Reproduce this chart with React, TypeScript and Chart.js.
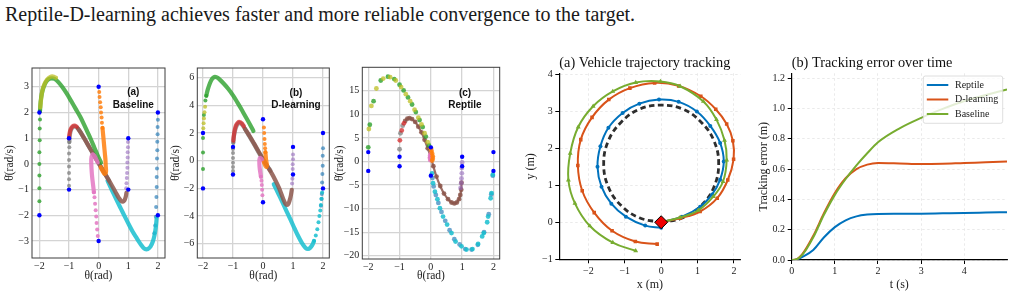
import React, { useEffect, useRef } from "react";
import { Chart, registerables } from "chart.js";
Chart.register(...registerables);

type P = [number, number];

const SERIF = '"Liberation Serif","Times New Roman",Times,serif';
const SANS = '"Liberation Sans",Arial,Helvetica,sans-serif';

const CAPTION = "Reptile-D-learning achieves faster and more reliable convergence to the target.";

// ---------- phase portraits: shared ----------
const PHASE_X_TICKS = [-2, -1, 0, 1, 2];
const A_Y_TICKS = [-3, -2, -1, 0, 1, 2, 3];
const B_Y_TICKS = [-6, -4, -2, 0, 2, 4, 6];
const C_Y_TICKS = [-20, -15, -10, -5, 0, 5, 10, 15];
const INIT_POINTS: P[] = [[-2, 2], [-2, -2], [-1, 1], [-1, -1], [0, 3], [0, -3], [1, 1], [1, -1], [2, 2], [2, -2]];

// ---------- (a) Baseline ----------
const aGreenDots: P[] = [[-2, -1.45], [-2, -0.95], [-2, -0.45], [-2, 0.0], [-2, 0.45], [-1.99, 0.92], [-1.99, 1.38], [-1.98, 1.73], [-1.98, 2.05]];
const aGreenPath: P[] = [[-1.98, 2.05], [-1.96, 2.4], [-1.92, 2.72], [-1.86, 2.98], [-1.78, 3.18], [-1.68, 3.3], [-1.58, 3.33], [-1.48, 3.3], [-1.36, 3.18], [-1.22, 2.98], [-1.08, 2.74], [-0.93, 2.45], [-0.78, 2.15], [-0.63, 1.85], [-0.5, 1.55], [-0.38, 1.25], [-0.26, 0.95], [-0.14, 0.62], [-0.03, 0.32], [0.08, 0.05]];
const aOlivePath: P[] = [[-1.97, 2.2], [-1.94, 2.55], [-1.9, 2.85], [-1.83, 3.1], [-1.74, 3.28], [-1.64, 3.38], [-1.54, 3.4], [-1.44, 3.35]];
const aRedPath: P[] = [[-1, 1.0], [-0.98, 1.2], [-0.94, 1.36], [-0.88, 1.46], [-0.81, 1.49], [-0.74, 1.45]];
const aGrayDots: P[] = [[-1, -0.85], [-1, -0.6], [-1, -0.35], [-1, -0.1], [-1, 0.15], [-1, 0.4], [-0.99, 0.65], [-0.99, 0.85]];
const aGrayPath: P[] = [[-0.99, 0.85], [-0.97, 1.15], [-0.93, 1.33], [-0.87, 1.43], [-0.8, 1.45], [-0.72, 1.4], [-0.62, 1.25], [-0.5, 1.02], [-0.38, 0.78], [-0.24, 0.5], [-0.1, 0.22], [0.05, -0.07], [0.2, -0.36], [0.35, -0.65]];
const aBrownPath: P[] = [[-0.7, 1.38], [-0.58, 1.17], [-0.45, 0.92], [-0.3, 0.62], [-0.15, 0.32], [0, 0.03], [0.15, -0.26], [0.3, -0.55], [0.45, -0.85], [0.58, -1.12], [0.68, -1.32], [0.76, -1.44], [0.82, -1.47], [0.87, -1.42], [0.91, -1.3], [0.94, -1.12]];
const aPurpleDots: P[] = [[0.99, 0.85], [0.99, 0.65], [0.98, 0.45], [0.98, 0.25], [0.97, 0.05], [0.97, -0.15], [0.96, -0.35], [0.95, -0.55], [0.94, -0.75], [0.93, -0.95]];
const aOrangeDots: P[] = [[0.02, 2.8], [0.03, 2.6], [0.05, 2.4], [0.07, 2.2], [0.08, 2.0], [0.1, 1.8], [0.11, 1.6], [0.13, 1.4]];
const aOrangePath: P[] = [[0.13, 1.4], [0.15, 1.15], [0.17, 0.9], [0.19, 0.65], [0.21, 0.4], [0.23, 0.15], [0.24, -0.1], [0.25, -0.28], [0.23, -0.38], [0.19, -0.38], [0.13, -0.27], [0.07, -0.13]];
const aPinkDots: P[] = [[-0.03, -2.8], [-0.05, -2.55], [-0.07, -2.3], [-0.08, -2.05], [-0.1, -1.8], [-0.12, -1.55], [-0.14, -1.3], [-0.16, -1.1]];
const aPinkPath: P[] = [[-0.16, -1.1], [-0.19, -0.8], [-0.22, -0.5], [-0.24, -0.2], [-0.25, 0.08], [-0.24, 0.27], [-0.2, 0.37], [-0.15, 0.33], [-0.09, 0.2], [-0.03, 0.06]];
const aBlueDots: P[] = [[2.0, 1.72], [1.99, 1.44], [1.99, 1.15], [1.98, 0.86], [1.98, 0.53], [1.97, 0.21], [1.97, -0.18], [1.96, -0.51], [1.96, -0.9], [1.95, -1.29], [1.94, -1.68], [1.93, -2.06], [1.91, -2.4], [1.88, -2.7]];
const aCyanPath: P[] = [[1.96, -2.1], [1.93, -2.45], [1.89, -2.75], [1.83, -3.02], [1.75, -3.22], [1.66, -3.31], [1.57, -3.31], [1.48, -3.22], [1.38, -3.06], [1.27, -2.86], [1.15, -2.64], [1.02, -2.36], [0.88, -2.04], [0.75, -1.74], [0.62, -1.44], [0.5, -1.15], [0.4, -0.9], [0.3, -0.65]];

// ---------- (b) D-learning ----------
const bGreenDots: P[] = [[-2, -0.6], [-2, 0.6], [-2, 1.64], [-1.97, 3.3], [-1.92, 4.35], [-1.89, 4.7]];
const bOliveDots: P[] = [[-1.99, 2.35], [-1.98, 2.7], [-1.97, 3.05], [-1.95, 3.5], [-1.93, 3.9]];
const bGreenPath: P[] = [[-1.89, 4.7], [-1.84, 5.15], [-1.77, 5.6], [-1.7, 5.9], [-1.62, 6.05], [-1.54, 6.02], [-1.45, 5.88], [-1.32, 5.6], [-1.16, 5.2], [-1.0, 4.72], [-0.85, 4.2], [-0.7, 3.65], [-0.56, 3.1], [-0.43, 2.6], [-0.32, 2.15]];
const bRedPath: P[] = [[-0.99, 1.45], [-0.97, 1.85], [-0.94, 2.25], [-0.9, 2.55], [-0.84, 2.75], [-0.78, 2.8], [-0.71, 2.7], [-0.64, 2.5]];
const bGrayDots: P[] = [[-1, -0.75], [-1, -0.45], [-1, -0.15], [-1, 0.2], [-1, 0.55], [-1, 0.85], [-0.99, 1.3]];
const bGrayPath: P[] = [[-0.99, 1.3], [-0.97, 1.75], [-0.93, 2.2], [-0.88, 2.52], [-0.82, 2.7], [-0.76, 2.72], [-0.68, 2.56], [-0.58, 2.22], [-0.45, 1.75], [-0.3, 1.2], [-0.15, 0.62], [0, 0.08], [0.12, -0.32], [0.25, -0.72]];
const bBrownPath: P[] = [[-0.6, 2.3], [-0.45, 1.8], [-0.3, 1.25], [-0.15, 0.68], [0, 0.12], [0.15, -0.42], [0.3, -0.95], [0.42, -1.45], [0.53, -1.95], [0.62, -2.45], [0.69, -2.85], [0.75, -3.12], [0.8, -3.2], [0.85, -3.1], [0.89, -2.85], [0.93, -2.5], [0.96, -2.1]];
const bPurpleDots: P[] = [[1, 0.45], [1, 0.1], [0.99, -0.25], [0.99, -0.6], [0.98, -1.3], [0.97, -1.65]];
const bOrangeDots: P[] = [[0.03, 2.4], [0.04, 2.0], [0.05, 1.57], [0.06, 1.2], [0.07, 0.9], [0.08, 0.62]];
const bOrangePath: P[] = [[0.08, 0.62], [0.09, 0.35], [0.1, 0.1], [0.12, -0.15], [0.13, -0.35], [0.11, -0.45], [0.07, -0.32], [0.03, -0.12]];
const bPinkDots: P[] = [[-0.02, -2.5], [-0.03, -2.1], [-0.04, -1.75], [-0.05, -1.45], [-0.07, -1.15]];
const bPinkPath: P[] = [[-0.07, -1.15], [-0.09, -0.85], [-0.11, -0.55], [-0.12, -0.25], [-0.12, 0.05], [-0.1, 0.2], [-0.06, 0.15], [-0.02, 0.05]];
const bBlueDots: P[] = [[2, 0.9], [1.99, 0.36], [1.99, -0.36], [1.98, -0.96], [1.97, -1.57], [1.96, -2.4], [1.95, -2.77], [1.93, -3.25]];
const bCyanDots: P[] = [[1.97, -2.3], [1.95, -2.75], [1.93, -3.2], [1.91, -3.6], [1.88, -4.0], [1.85, -4.45], [1.81, -4.95], [1.76, -5.4], [1.7, -5.8]];
const bCyanPath: P[] = [[1.7, -5.8], [1.64, -6.1], [1.57, -6.3], [1.5, -6.38], [1.42, -6.3], [1.3, -5.95], [1.15, -5.35], [1.0, -4.65], [0.85, -3.95], [0.7, -3.25], [0.56, -2.6], [0.45, -2.1], [0.36, -1.7]];

// ---------- (c) Reptile ----------
const cGreenDots: P[] = [[-2, 3.0], [-1.95, 7.8], [-1.83, 12.8], [-1.6, 17.2], [-1.37, 18.0], [-1.17, 17.5], [-1.0, 16.3], [-0.87, 15.1], [-0.73, 13.6], [-0.6, 12.1], [-0.48, 10.5], [-0.36, 8.8], [-0.26, 7.3], [-0.16, 5.3], [-0.06, 3.4]];
const cOliveDots: P[] = [[-1.98, 6.9], [-1.9, 11.8], [-1.74, 15.5], [-1.52, 17.6], [-1.3, 17.9], [-1.12, 17.2], [-0.95, 15.8], [-0.8, 14.3], [-0.66, 12.8], [-0.52, 11.0], [-0.4, 9.3], [-0.3, 7.9], [-0.2, 6.0], [-0.1, 4.1]];
const cGrayDots: P[] = [[-1, 2.6], [-0.97, 6.0], [-0.9, 7.6]];
const cRedDots: P[] = [[-0.99, 4.5], [-0.93, 6.6], [-0.86, 8.1]];
const cBrownPath: P[] = [[-0.82, 8.6], [-0.75, 9.1], [-0.68, 9.2], [-0.6, 9.0], [-0.5, 8.4], [-0.4, 7.4], [-0.3, 6.2], [-0.2, 4.6], [-0.1, 2.8], [0, 0.9], [0.08, -1.0], [0.18, -3.2], [0.3, -5.2], [0.42, -6.8], [0.55, -8.0], [0.66, -8.7], [0.75, -8.9], [0.83, -8.7], [0.9, -8.0], [0.94, -7.1], [0.97, -6.0], [0.98, -4.5]];
const cPurpleDots: P[] = [[1, -0.2], [0.99, -1.4], [0.99, -2.5], [0.98, -3.6], [0.97, -4.6], [0.95, -5.6]];
const cOrangePath: P[] = [[0, 2.8], [0.02, 2.3], [0.04, 1.7], [0.06, 1.1], [0.06, 0.6], [0.04, 0.2]];
const cPinkPath: P[] = [[-0.02, 0.3], [-0.03, 0.8], [-0.02, 1.3], [0, 1.6]];
const cCyanDots: P[] = [[1.98, -2.8], [1.94, -6.7], [1.91, -7.8], [1.83, -11.7], [1.8, -12.9], [1.69, -15.2], [1.64, -15.9], [1.51, -17.5], [1.33, -18.6], [1.14, -18.7], [0.98, -18.0], [0.79, -17.0], [0.66, -15.2], [0.52, -13.4], [0.39, -11.7], [0.29, -9.9], [0.21, -8.0], [0.13, -6.4], [0.07, -4.6], [0.04, -2.5]];
const cBlueDots: P[] = [[1.98, -3.0], [1.93, -7.0], [1.85, -11.2], [1.7, -15.0], [1.5, -17.7], [1.3, -18.7], [1.1, -18.6], [0.92, -17.6], [0.75, -16.5], [0.6, -14.6], [0.46, -12.6], [0.34, -10.7], [0.24, -8.8], [0.16, -7.1], [0.09, -5.3], [0.05, -3.5]];

// ---------- trajectory tracking ----------
const TRAJ_X_TICKS = [-2, -1, 0, 1, 2];
const TRAJ_Y_TICKS = [-1, 0, 1, 2, 3, 4];
const targetPath: P[] = [[0, 0], [0.6, 0.12], [1.1, 0.45], [1.45, 0.95], [1.58, 1.58], [1.45, 2.2], [1.1, 2.7], [0.6, 3.05], [0, 3.16], [-0.6, 3.05], [-1.1, 2.7], [-1.45, 2.2], [-1.58, 1.58], [-1.45, 0.95], [-1.1, 0.45], [-0.6, 0.12], [0, 0]];
const reptilePath: P[] = [[0, 0], [0.57, 0.15], [1.07, 0.42], [1.4, 0.75], [1.62, 1.15], [1.72, 1.64], [1.62, 2.14], [1.35, 2.6], [0.98, 2.99], [0.48, 3.25], [-0.06, 3.31], [-0.6, 3.2], [-1.06, 2.95], [-1.45, 2.55], [-1.67, 2.05], [-1.75, 1.5], [-1.64, 0.96], [-1.37, 0.5], [-0.97, 0.15], [-0.44, -0.09], [0, -0.15]];
const dlearnPath: P[] = [[0, 0], [0.52, 0.11], [1.07, 0.29], [1.54, 0.65], [1.83, 1.14], [1.99, 1.7], [1.97, 2.2], [1.8, 2.65], [1.5, 3.05], [1.09, 3.4], [0.48, 3.68], [-0.18, 3.76], [-0.86, 3.62], [-1.44, 3.31], [-1.9, 2.83], [-2.21, 2.23], [-2.29, 1.53], [-2.17, 0.85], [-1.84, 0.26], [-1.35, -0.23], [-0.71, -0.52], [-0.11, -0.59]];
const baselinePath: P[] = [[0, 0], [0.52, 0.13], [1.02, 0.32], [1.43, 0.69], [1.7, 1.1], [1.8, 1.68], [1.74, 2.21], [1.52, 2.77], [1.16, 3.26], [0.52, 3.67], [-0.02, 3.8], [-0.7, 3.77], [-1.33, 3.53], [-1.87, 3.13], [-2.28, 2.57], [-2.5, 1.86], [-2.55, 1.14], [-2.37, 0.51], [-1.96, -0.1], [-1.33, -0.55], [-0.7, -0.77]];
const startPoint: P[] = [[0, 0]];

// ---------- tracking error ----------
const ERR_X_TICKS = [0, 1, 2, 3, 4];
const ERR_Y_TICKS = [0, 0.2, 0.4, 0.6, 0.8, 1.0, 1.2];
const SERIES_NAMES = ["Reptile", "D-learning", "Baseline"];
const SERIES_COLORS = ["#0072BD", "#D95319", "#77AC30"];
const timeS = [0, 0.1, 0.25, 0.5, 0.75, 1, 1.25, 1.5, 1.75, 2, 2.5, 3, 3.5, 4, 4.5, 4.99];
const errReptile = [0, 0.002, 0.02, 0.066, 0.15, 0.217, 0.262, 0.288, 0.3, 0.304, 0.305, 0.306, 0.308, 0.31, 0.313, 0.316];
const errDlearn = [0, 0.003, 0.04, 0.16, 0.31, 0.442, 0.54, 0.6, 0.63, 0.641, 0.638, 0.634, 0.636, 0.641, 0.645, 0.65];
const errBaseline = [0, 0.003, 0.035, 0.15, 0.3, 0.43, 0.535, 0.625, 0.705, 0.778, 0.87, 0.939, 0.998, 1.05, 1.09, 1.127];

// ---------- helpers ----------
const fmtInt = (v: number) => (v < 0 ? "\u2212" + Math.abs(v) : String(v));
const xy = (pts: P[]) => pts.map(([x, y]) => ({ x, y }));

type Layer = { pts: P[]; color: string; kind: "dots" | "path" | "beads" };

const framePlugin = {
  id: "frame",
  afterDraw(chart: any) {
    const { ctx, chartArea: a } = chart;
    ctx.save();
    ctx.strokeStyle = "#3c3c3c";
    ctx.lineWidth = 1;
    ctx.strokeRect(a.left, a.top, a.right - a.left, a.bottom - a.top);
    ctx.restore();
  },
};

function phaseConfig(spec: {
  layers: Layer[];
  xMin: number; xMax: number; yMin: number; yMax: number; yTicks: number[];
  padTop: number; padRight: number; yWidth: number; xHeight: number;
  yTitlePad: number; xTitlePad: number;
  note: [string, string]; noteDx: number; noteDy: [number, number]; dotR: number;
}) {
  const datasets: any[] = [
    { data: xy(INIT_POINTS), showLine: false, pointRadius: 2.2, pointBackgroundColor: "#0000ff", pointBorderWidth: 0 },
  ];
  for (const l of spec.layers) {
    if (l.kind === "dots") {
      datasets.push({ data: xy(l.pts), showLine: false, pointRadius: spec.dotR, pointBackgroundColor: l.color, pointBorderWidth: 0 });
    } else if (l.kind === "path") {
      datasets.push({ data: xy(l.pts), showLine: true, borderColor: l.color, borderWidth: 4.2, pointRadius: 0, tension: 0.35, borderCapStyle: "round", borderJoinStyle: "round" });
    } else {
      datasets.push({ data: xy(l.pts), showLine: true, borderColor: l.color, borderWidth: 2.2, pointRadius: spec.dotR, pointBackgroundColor: l.color, pointBorderWidth: 0, tension: 0.35 });
    }
  }
  const notePlugin = {
    id: "note",
    afterDraw(chart: any) {
      const { ctx, chartArea: a } = chart;
      ctx.save();
      ctx.fillStyle = "#111";
      ctx.font = `bold 10px ${SANS}`;
      ctx.textAlign = "center";
      ctx.textBaseline = "middle";
      ctx.fillText(spec.note[0], a.left + spec.noteDx, a.top + spec.noteDy[0]);
      ctx.fillText(spec.note[1], a.left + spec.noteDx, a.top + spec.noteDy[1]);
      ctx.restore();
    },
  };
  const tickFont = { family: SERIF, size: 10 };
  const titleFont = { family: SERIF, size: 11.5 };
  return {
    type: "scatter",
    data: { datasets },
    options: {
      animation: false,
      responsive: false,
      devicePixelRatio: 1,
      events: [],
      layout: { padding: { left: 0, top: spec.padTop, right: spec.padRight, bottom: 0 } },
      plugins: { legend: { display: false }, tooltip: { enabled: false } },
      scales: {
        x: {
          type: "linear", min: spec.xMin, max: spec.xMax,
          afterBuildTicks: (s: any) => { s.ticks = PHASE_X_TICKS.map((v) => ({ value: v })); },
          afterFit: (s: any) => { s.height = spec.xHeight; },
          grid: { color: "#d4d4d4", lineWidth: 1.3, drawTicks: false },
          border: { display: false },
          ticks: { font: tickFont, color: "#222", padding: 2.2, autoSkip: false, maxRotation: 0, callback: (v: any) => fmtInt(Number(v)) },
          title: { display: true, text: "θ(rad)", font: titleFont, color: "#222", padding: { top: 0, bottom: spec.xTitlePad } },
        },
        y: {
          type: "linear", min: spec.yMin, max: spec.yMax,
          afterBuildTicks: (s: any) => { s.ticks = spec.yTicks.map((v) => ({ value: v })); },
          afterFit: (s: any) => { s.width = spec.yWidth; },
          grid: { color: "#d4d4d4", lineWidth: 1.3, drawTicks: false },
          border: { display: false },
          ticks: { font: tickFont, color: "#222", padding: 3, autoSkip: false, callback: (v: any) => fmtInt(Number(v)) },
          title: { display: true, text: "θ\u0307(rad/s)", font: titleFont, color: "#222", padding: { top: spec.yTitlePad, bottom: 0 } },
        },
      },
    },
    plugins: [framePlugin, notePlugin],
  };
}

const C_BLUE = "rgba(31,119,180,0.65)";
const C_ORANGE = "rgba(255,127,14,0.85)";
const C_GREEN = "rgba(44,160,44,0.8)";
const C_RED = "rgba(214,39,40,0.75)";
const C_PURPLE = "rgba(148,103,189,0.6)";
const C_BROWN = "rgba(140,86,75,0.85)";
const C_PINK = "rgba(227,119,194,0.85)";
const C_GRAY = "rgba(127,127,127,0.75)";
const C_OLIVE = "rgba(188,189,34,0.75)";
const C_CYAN = "rgba(23,190,207,0.85)";

function titlePlugin(text: string) {
  return {
    id: "ttl",
    afterDraw(chart: any) {
      const { ctx, chartArea: a } = chart;
      ctx.save();
      ctx.fillStyle = "#111";
      ctx.font = `14.3px ${SERIF}`;
      ctx.textAlign = "left";
      ctx.textBaseline = "alphabetic";
      ctx.fillText(text, a.left, a.top - 6);
      ctx.restore();
    },
  };
}

function cartesianScales(o: {
  xMin: number; xMax: number; yMin: number; yMax: number; xTicks: number[]; yTicks: number[];
  xFmt: (v: number) => string; yFmt: (v: number) => string; xTitle: string; yTitle: string;
  yWidth: number; xHeight: number; yTitlePad: number; xTitlePad: number; xTickPad: number; yTickPad: number;
}) {
  const grid = { color: "#e4e4e4", lineWidth: 0.8, drawTicks: true, tickLength: 4, tickColor: "#000", tickWidth: 1, tickBorderDash: [] as number[] };
  const border = { display: true, color: "#000", width: 1.2, dash: [2.5, 2.5] };
  const tickFont = { family: SERIF, size: 10 };
  const titleFont = { family: SERIF, size: 12 };
  return {
    x: {
      type: "linear", min: o.xMin, max: o.xMax,
      afterBuildTicks: (s: any) => { s.ticks = o.xTicks.map((v) => ({ value: v })); },
      afterFit: (s: any) => { s.height = o.xHeight; },
      grid, border,
      ticks: { font: tickFont, color: "#222", padding: o.xTickPad, autoSkip: false, maxRotation: 0, callback: (v: any) => o.xFmt(Number(v)) },
      title: { display: true, text: o.xTitle, font: titleFont, color: "#222", padding: { top: 0, bottom: o.xTitlePad } },
    },
    y: {
      type: "linear", min: o.yMin, max: o.yMax,
      afterBuildTicks: (s: any) => { s.ticks = o.yTicks.map((v) => ({ value: v })); },
      afterFit: (s: any) => { s.width = o.yWidth; },
      grid, border,
      ticks: { font: tickFont, color: "#222", padding: o.yTickPad, autoSkip: false, callback: (v: any) => o.yFmt(Number(v)) },
      title: { display: true, text: o.yTitle, font: titleFont, color: "#222", padding: { top: o.yTitlePad, bottom: 0 } },
    },
  };
}

function trajConfig() {
  const datasets: any[] = [
    { data: xy(startPoint), showLine: false, pointStyle: "rectRot", pointRadius: 6.5, pointBackgroundColor: "#ee0000", pointBorderColor: "#000", pointBorderWidth: 1 },
    { data: xy(baselinePath), showLine: true, borderColor: SERIES_COLORS[2], borderWidth: 2, tension: 0.4, pointStyle: "triangle", pointRadius: 2.8, pointBackgroundColor: SERIES_COLORS[2], pointBorderWidth: 0 },
    { data: xy(dlearnPath), showLine: true, borderColor: SERIES_COLORS[1], borderWidth: 2, tension: 0.4, pointStyle: "rect", pointRadius: 2.5, pointBackgroundColor: SERIES_COLORS[1], pointBorderWidth: 0 },
    { data: xy(reptilePath), showLine: true, borderColor: SERIES_COLORS[0], borderWidth: 2, tension: 0.4, pointStyle: "circle", pointRadius: 2, pointBackgroundColor: SERIES_COLORS[0], pointBorderWidth: 0 },
    { data: xy(targetPath), showLine: true, borderColor: "#2e2e2e", borderWidth: 2.8, borderDash: [5.5, 3.5], tension: 0.4, pointRadius: 0 },
  ];
  return {
    type: "scatter",
    data: { datasets },
    options: {
      animation: false, responsive: false, devicePixelRatio: 1, events: [],
      layout: { padding: { left: 0, top: 23.3, right: 5, bottom: 0 } },
      plugins: { legend: { display: false }, tooltip: { enabled: false } },
      scales: cartesianScales({
        xMin: -2.8, xMax: 2.18, yMin: -1, yMax: 4.02, xTicks: TRAJ_X_TICKS, yTicks: TRAJ_Y_TICKS,
        xFmt: fmtInt, yFmt: fmtInt, xTitle: "x (m)", yTitle: "y (m)",
        yWidth: 51.3, xHeight: 35.7, yTitlePad: 15.6, xTitlePad: 3.2, xTickPad: 2, yTickPad: 2.6,
      }),
    },
    plugins: [titlePlugin("(a) Vehicle trajectory tracking")],
  };
}

function errConfig() {
  const series = [errReptile, errDlearn, errBaseline];
  const datasets = series.map((vals, i) => ({
    label: SERIES_NAMES[i],
    data: vals.map((v, k) => ({ x: timeS[k], y: v })),
    showLine: true, borderColor: SERIES_COLORS[i], borderWidth: 2, pointRadius: 0,
    cubicInterpolationMode: "monotone",
  })).reverse();
  const legendPlugin = {
    id: "lg",
    afterDraw(chart: any) {
      const { ctx, chartArea: a } = chart;
      const bx = a.right - 83.7, by = a.top + 2.7, bw = 79.4, bh = 47.3;
      ctx.save();
      ctx.fillStyle = "rgba(255,255,255,0.8)";
      ctx.strokeStyle = "#d6d6d6";
      ctx.lineWidth = 0.8;
      ctx.beginPath();
      (ctx as any).roundRect(bx, by, bw, bh, 2);
      ctx.fill();
      ctx.stroke();
      ctx.font = `10px ${SERIF}`;
      ctx.textBaseline = "middle";
      ctx.textAlign = "left";
      SERIES_NAMES.forEach((name, i) => {
        const yy = by + 9 + i * 14.5;
        ctx.strokeStyle = SERIES_COLORS[i];
        ctx.lineWidth = 2;
        ctx.beginPath();
        ctx.moveTo(bx + 3.5, yy);
        ctx.lineTo(bx + 25, yy);
        ctx.stroke();
        ctx.fillStyle = "#222";
        ctx.fillText(name, bx + 31.7, yy);
      });
      ctx.restore();
    },
  };
  return {
    type: "scatter",
    data: { datasets },
    options: {
      animation: false, responsive: false, devicePixelRatio: 1, events: [],
      layout: { padding: { left: 0, top: 23.3, right: 7, bottom: 0 } },
      plugins: { legend: { display: false }, tooltip: { enabled: false } },
      scales: cartesianScales({
        xMin: 0, xMax: 4.99, yMin: 0, yMax: 1.233, xTicks: ERR_X_TICKS, yTicks: ERR_Y_TICKS,
        xFmt: fmtInt, yFmt: (v) => v.toFixed(1), xTitle: "t (s)", yTitle: "Tracking error (m)",
        yWidth: 39.7, xHeight: 35, yTitlePad: 5, xTitlePad: 3.2, xTickPad: 1.3, yTickPad: 2.7,
      }),
    },
    plugins: [titlePlugin("(b) Tracking error over time"), legendPlugin],
  };
}

function ChartBox(props: { left: number; top: number; width: number; height: number; make: () => any }) {
  const ref = useRef<HTMLCanvasElement>(null);
  useEffect(() => {
    const chart = new Chart(ref.current as HTMLCanvasElement, props.make());
    return () => chart.destroy();
  }, []);
  return (
    <canvas
      ref={ref}
      width={props.width}
      height={props.height}
      style={{ position: "absolute", left: props.left, top: props.top, width: props.width, height: props.height }}
    />
  );
}

const makeA = () =>
  phaseConfig({
    layers: [
      { pts: aOrangeDots, color: C_ORANGE, kind: "dots" },
      { pts: aOrangePath, color: C_ORANGE, kind: "path" },
      { pts: aPinkDots, color: C_PINK, kind: "dots" },
      { pts: aPinkPath, color: C_PINK, kind: "path" },
      { pts: aPurpleDots, color: C_PURPLE, kind: "dots" },
      { pts: aOlivePath, color: C_OLIVE, kind: "path" },
      { pts: aGreenDots, color: C_GREEN, kind: "dots" },
      { pts: aGreenPath, color: C_GREEN, kind: "path" },
      { pts: aRedPath, color: C_RED, kind: "path" },
      { pts: aBrownPath, color: C_BROWN, kind: "path" },
      { pts: aGrayDots, color: C_GRAY, kind: "dots" },
      { pts: aGrayPath, color: C_GRAY, kind: "path" },
      { pts: aCyanPath, color: C_CYAN, kind: "path" },
      { pts: aBlueDots, color: C_BLUE, kind: "dots" },
    ],
    xMin: -2.25, xMax: 2.24, yMin: -3.66, yMax: 3.73, yTicks: A_Y_TICKS,
    padTop: 14, padRight: 7, yWidth: 32, xHeight: 37, yTitlePad: 3.2, xTitlePad: 12.2,
    note: ["(a)", "Baseline"], noteDx: 101.3, noteDy: [24.3, 37], dotR: 2,
  });

const makeB = () =>
  phaseConfig({
    layers: [
      { pts: bOrangeDots, color: C_ORANGE, kind: "dots" },
      { pts: bOrangePath, color: C_ORANGE, kind: "path" },
      { pts: bPinkDots, color: C_PINK, kind: "dots" },
      { pts: bPinkPath, color: C_PINK, kind: "path" },
      { pts: bPurpleDots, color: C_PURPLE, kind: "dots" },
      { pts: bOliveDots, color: C_OLIVE, kind: "dots" },
      { pts: bGreenDots, color: C_GREEN, kind: "dots" },
      { pts: bGreenPath, color: C_GREEN, kind: "path" },
      { pts: bRedPath, color: C_RED, kind: "path" },
      { pts: bBrownPath, color: C_BROWN, kind: "path" },
      { pts: bGrayDots, color: C_GRAY, kind: "dots" },
      { pts: bGrayPath, color: C_GRAY, kind: "path" },
      { pts: bCyanDots, color: C_CYAN, kind: "dots" },
      { pts: bCyanPath, color: C_CYAN, kind: "path" },
      { pts: bBlueDots, color: C_BLUE, kind: "dots" },
    ],
    xMin: -2.19, xMax: 2.21, yMin: -7.03, yMax: 6.7, yTicks: B_Y_TICKS,
    padTop: 14, padRight: 6.7, yWidth: 29.3, xHeight: 37, yTitlePad: 1.2, xTitlePad: 12.2,
    note: ["(b)", "D-learning"], noteDx: 98.7, noteDy: [25.3, 37.7], dotR: 2,
  });

const makeC = () =>
  phaseConfig({
    layers: [
      { pts: cOrangePath, color: C_ORANGE, kind: "beads" },
      { pts: cPinkPath, color: C_PINK, kind: "beads" },
      { pts: cPurpleDots, color: C_PURPLE, kind: "dots" },
      { pts: cOliveDots, color: C_OLIVE, kind: "dots" },
      { pts: cGreenDots, color: C_GREEN, kind: "dots" },
      { pts: cRedDots, color: C_RED, kind: "dots" },
      { pts: cGrayDots, color: C_GRAY, kind: "dots" },
      { pts: cBrownPath, color: C_BROWN, kind: "beads" },
      { pts: cCyanDots, color: C_CYAN, kind: "dots" },
      { pts: cBlueDots, color: C_BLUE, kind: "dots" },
    ],
    xMin: -2.19, xMax: 2.2, yMin: -20.7, yMax: 20.0, yTicks: C_Y_TICKS,
    padTop: 13.3, padRight: 5.3, yWidth: 30.3, xHeight: 36, yTitlePad: 1.2, xTitlePad: 12.2,
    note: ["(c)", "Reptile"], noteDx: 102.7, noteDy: [26, 38], dotR: 2.4,
  });

export default function App() {
  return (
    <div style={{ position: "fixed", left: 0, top: 0, width: 1014, height: 295, background: "#fff", overflow: "hidden" }}>
      <div
        style={{
          position: "absolute", left: 5, top: 3, fontFamily: SERIF, fontSize: 20, lineHeight: "22px",
          color: "#1a1a1a", whiteSpace: "nowrap",
        }}
      >
        {CAPTION}
      </div>
      <ChartBox left={0} top={54} width={172} height={241} make={makeA} />
      <ChartBox left={168} top={54} width={168} height={241} make={makeB} />
      <ChartBox left={332} top={54} width={173} height={241} make={makeC} />
      <ChartBox left={508} top={50} width={240} height={245} make={trajConfig} />
      <ChartBox left={752} top={50} width={262} height={245} make={errConfig} />
    </div>
  );
}
